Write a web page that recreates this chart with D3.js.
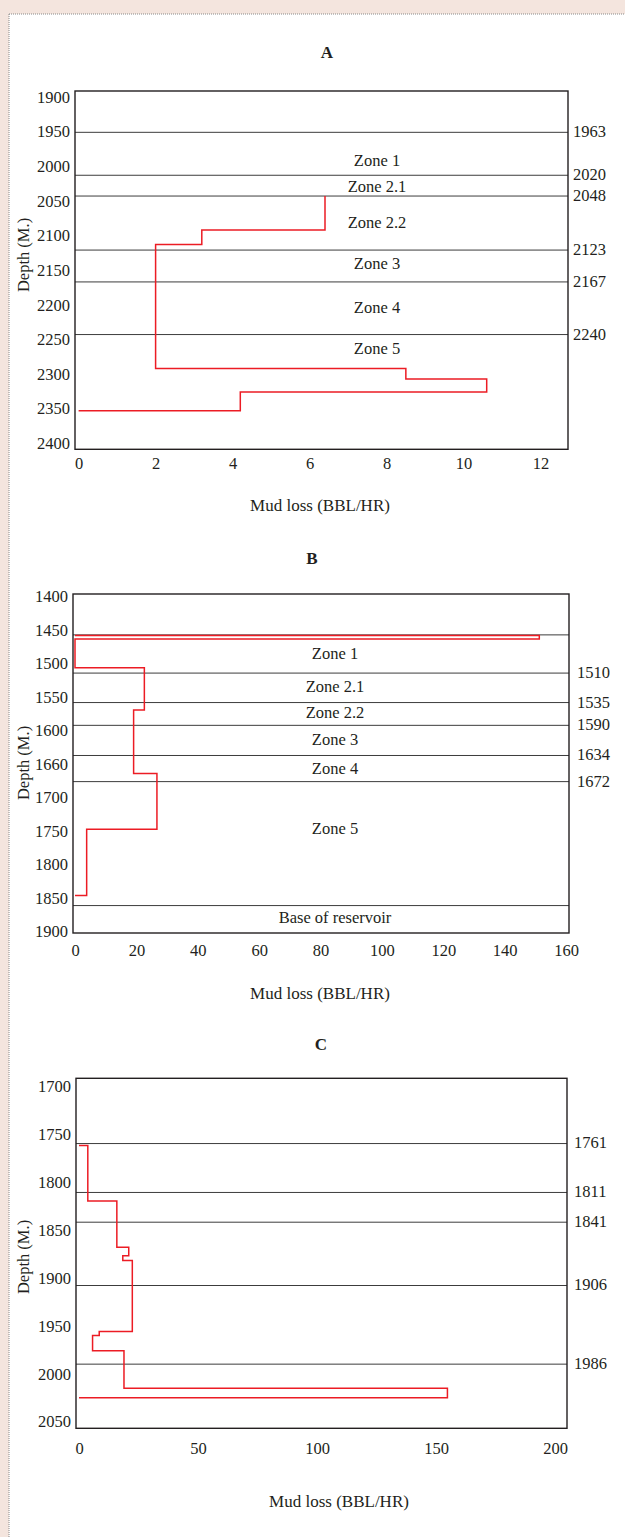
<!DOCTYPE html>
<html>
<head>
<meta charset="utf-8">
<script src="https://cdn.jsdelivr.net/npm/d3@7/dist/d3.min.js"></script>
<style>
  html, body { margin: 0; padding: 0; background: #f4e5de; }
  svg { display: block; }
  text { font-family: "Liberation Serif", "Times New Roman", serif; fill: #231f20; }
</style>
</head>
<body>
<svg id="chart" width="625" height="1537"></svg>
<script>
// ---------------- Panel A data ----------------
const depthTicksA = [1900, 1950, 2000, 2050, 2100, 2150, 2200, 2250, 2300, 2350, 2400];
const depthTickLabelsA = ["1900", "1950", "2000", "2050", "2100", "2150", "2200", "2250", "2300", "2350", "2400"];
const lossTicksA = [0, 2, 4, 6, 8, 10, 12];
const stepDepthA = [2043, 2092, 2113, 2292, 2307, 2326, 2353];
const stepLossA = [6.4, 3.2, 2.0, 8.5, 10.6, 4.2, 0];
const boundaryDepthA = [1951, 2013, 2043, 2121, 2167, 2243];
const boundaryLabelA = ["1963", "2020", "2048", "2123", "2167", "2240"];
const zoneNameA = ["Zone 1", "Zone 2.1", "Zone 2.2", "Zone 3", "Zone 4", "Zone 5"];
const zoneDepthA = [1991, 2029, 2081, 2140, 2204, 2263];

// ---------------- Panel B data ----------------
const depthTicksB = [1400, 1450, 1500, 1550, 1600, 1650, 1700, 1750, 1800, 1850, 1900];
const depthTickLabelsB = ["1400", "1450", "1500", "1550", "1600", "1660", "1700", "1750", "1800", "1850", "1900"];
const lossTicksB = [0, 20, 40, 60, 80, 100, 120, 140, 160];
const stepDepthB = [1458, 1458, 1463, 1506, 1569, 1664, 1747, 1846];
const stepLossB = [0, 151.3, 0, 22.6, 19.1, 26.7, 3.8, 0];
const boundaryDepthB = [1457, 1514, 1558, 1592, 1637, 1676, 1861];
const boundaryLabelB = ["", "1510", "1535", "1590", "1634", "1672", ""];
const zoneNameB = ["Zone 1", "Zone 2.1", "Zone 2.2", "Zone 3", "Zone 4", "Zone 5", "Base of reservoir"];
const zoneDepthB = [1485, 1534, 1573, 1613, 1656, 1745, 1878];

// ---------------- Panel C data ----------------
const depthTicksC = [1700, 1750, 1800, 1850, 1900, 1950, 2000, 2050];
const depthTickLabelsC = ["1700", "1750", "1800", "1850", "1900", "1950", "2000", "2050"];
const lossTicksC = [0, 50, 100, 150, 200];
const stepDepthC = [1762, 1762, 1820, 1868, 1877, 1882, 1956, 1960, 1976, 2015, 2025];
const stepLossC = [0, 3.7, 15.9, 20.9, 18.4, 22.4, 8.5, 5.7, 18.9, 154.8, 0];
const boundaryDepthC = [1760, 1811, 1842, 1908, 1990];
const boundaryLabelC = ["1761", "1811", "1841", "1906", "1986"];
const zoneNameC = [];
const zoneDepthC = [];

const panelTitles = ["A", "B", "C"];
const xAxisTitle = "Mud loss (BBL/HR)";
const yAxisTitle = "Depth (M.)";

// ---------------- drawing ----------------
const svg = d3.select("#chart");
const TEXT = "#231f20";
const FS = 16.5;

// page background: white sheet with dotted border
svg.append("rect").attr("x", 0).attr("y", 0).attr("width", 625).attr("height", 1537).attr("fill", "#f4e5de");
svg.append("rect").attr("x", 9).attr("y", 14).attr("width", 616).attr("height", 1523).attr("fill", "#ffffff");
svg.append("line").attr("x1", 9).attr("y1", 14).attr("x2", 625).attr("y2", 14)
  .attr("stroke", "#8a8a8a").attr("stroke-width", 1).attr("stroke-dasharray", "1,1");
svg.append("line").attr("x1", 9).attr("y1", 14).attr("x2", 9).attr("y2", 1537)
  .attr("stroke", "#8a8a8a").attr("stroke-width", 1).attr("stroke-dasharray", "1,1");

const panels = [
  {
    title: panelTitles[0], depthTicks: depthTicksA, depthLabels: depthTickLabelsA, lossTicks: lossTicksA,
    stepDepth: stepDepthA, stepLoss: stepLossA, bDepth: boundaryDepthA, bLabel: boundaryLabelA,
    zName: zoneNameA, zDepth: zoneDepthA,
    xDomain: [0, 12], xRange: [78.6, 540.6], yDomain: [1900, 2400], yRange: [97, 443.3],
    box: [75, 568, 91, 449.3], titlePos: [327, 52], xTickY: 463, xTitlePos: [320, 505],
    yTitlePos: [23, 255], rightX: 573, zoneX: 377
  },
  {
    title: panelTitles[1], depthTicks: depthTicksB, depthLabels: depthTickLabelsB, lossTicks: lossTicksB,
    stepDepth: stepDepthB, stepLoss: stepLossB, bDepth: boundaryDepthB, bLabel: boundaryLabelB,
    zName: zoneNameB, zDepth: zoneDepthB,
    xDomain: [0, 160], xRange: [75, 566], yDomain: [1400, 1900], yRange: [596.7, 931.7],
    box: [73, 569, 594, 933], titlePos: [312, 558], xTickY: 950, xTitlePos: [320, 993],
    yTitlePos: [23, 763], rightX: 577, zoneX: 335
  },
  {
    title: panelTitles[2], depthTicks: depthTicksC, depthLabels: depthTickLabelsC, lossTicks: lossTicksC,
    stepDepth: stepDepthC, stepLoss: stepLossC, bDepth: boundaryDepthC, bLabel: boundaryLabelC,
    zName: zoneNameC, zDepth: zoneDepthC,
    xDomain: [0, 200], xRange: [79, 555], yDomain: [1700, 2050], yRange: [1086, 1421.7],
    box: [76, 567, 1078.3, 1428.3], titlePos: [321, 1044], xTickY: 1448, xTitlePos: [339, 1501],
    yTitlePos: [23, 1257], rightX: 574, zoneX: 335
  }
];

panels.forEach(p => {
  const g = svg.append("g");
  const x = d3.scaleLinear().domain(p.xDomain).range(p.xRange);
  const y = d3.scaleLinear().domain(p.yDomain).range(p.yRange);
  const [bx0, bx1, by0, by1] = p.box;

  // title
  g.append("text").attr("x", p.titlePos[0]).attr("y", p.titlePos[1]).attr("dy", "0.35em")
    .attr("text-anchor", "middle").attr("font-weight", "bold").attr("font-size", 17).text(p.title);

  // boundary lines
  g.selectAll("line.bnd").data(p.bDepth).enter().append("line").attr("class", "bnd")
    .attr("x1", bx0).attr("x2", bx1)
    .attr("y1", d => y(d)).attr("y2", d => y(d))
    .attr("stroke", "#3c3c3c").attr("stroke-width", 1);

  // boundary labels (right side)
  g.selectAll("text.blab").data(p.bDepth).enter().append("text").attr("class", "blab")
    .attr("x", p.rightX).attr("y", d => y(d)).attr("dy", "0.3em")
    .attr("font-size", FS).text((d, i) => p.bLabel[i]);

  // zone labels
  g.selectAll("text.zone").data(p.zDepth).enter().append("text").attr("class", "zone")
    .attr("x", p.zoneX).attr("y", d => y(d)).attr("dy", "0.35em")
    .attr("text-anchor", "middle").attr("font-size", FS).text((d, i) => p.zName[i]);

  // mud loss step profile
  const pts = p.stepDepth.map((d, i) => [p.stepLoss[i], d]);
  const line = d3.line().x(d => x(d[0])).y(d => y(d[1])).curve(d3.curveStepBefore);
  g.append("path").datum(pts).attr("d", line)
    .attr("fill", "none").attr("stroke", "#ec1c24").attr("stroke-width", 1.5);

  // frame
  g.append("rect").attr("x", bx0).attr("y", by0).attr("width", bx1 - bx0).attr("height", by1 - by0)
    .attr("fill", "none").attr("stroke", "#231f20").attr("stroke-width", 1.4);

  // y axis
  const ya = g.append("g").attr("transform", `translate(${bx0},0)`)
    .call(d3.axisLeft(y).tickValues(p.depthTicks).tickSize(0).tickPadding(5)
      .tickFormat((d, i) => p.depthLabels[i]));
  ya.select(".domain").remove();
  ya.selectAll("text").attr("font-size", FS).attr("font-family", "Liberation Serif").attr("fill", TEXT);

  // x axis
  const xa = g.append("g").attr("transform", `translate(0,${p.xTickY})`)
    .call(d3.axisBottom(x).tickValues(p.lossTicks).tickSize(0).tickPadding(0).tickFormat(d3.format("d")));
  xa.select(".domain").remove();
  xa.selectAll("text").attr("y", 0).attr("dy", "0.35em").attr("font-size", FS)
    .attr("font-family", "Liberation Serif").attr("fill", TEXT);

  // axis titles
  g.append("text").attr("x", p.xTitlePos[0]).attr("y", p.xTitlePos[1]).attr("dy", "0.35em")
    .attr("text-anchor", "middle").attr("font-size", 17).text(xAxisTitle);
  g.append("text").attr("transform", `translate(${p.yTitlePos[0]},${p.yTitlePos[1]}) rotate(-90)`)
    .attr("dy", "0.35em").attr("text-anchor", "middle").attr("font-size", FS).text(yAxisTitle);
});
</script>
</body>
</html>
